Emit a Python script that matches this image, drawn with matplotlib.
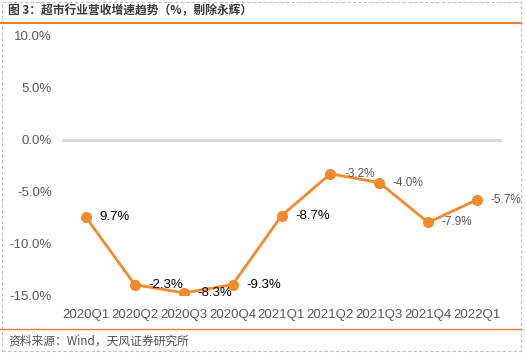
import matplotlib
matplotlib.use("Agg")
import matplotlib.pyplot as plt
from matplotlib.lines import Line2D
from matplotlib.patches import Rectangle

categories = ["2020Q1", "2020Q2", "2020Q3", "2020Q4", "2021Q1",
              "2021Q2", "2021Q3", "2021Q4", "2022Q1"]
growth = [-7.5, -14.0, -14.8, -14.0, -7.35, -3.3, -4.15, -8.0, -5.8]
point_labels = ["9.7%", "-2.3%", "-8.3%", "-9.3%", "-8.7%",
                "-3.2%", "-4.0%", "-7.9%", "-5.7%"]
label_colors = ["black"] * 5 + ["#595959"] * 4
label_sizes = [9.5] * 5 + [8.5] * 4
yticks = [10, 5, 0, -5, -10, -15]
ytick_labels = ["10.0%", "5.0%", "0.0%", "-5.0%", "-10.0%", "-15.0%"]

title = "图 3：超市行业营收增速趋势（%，剔除永辉）"
source = "资料来源：Wind，天风证券研究所"

plt.rcParams['font.family'] = ['Liberation Sans', 'Noto Sans CJK SC', 'DejaVu Sans']

W, H = 525, 353
fig = plt.figure(figsize=(W / 100, H / 100), dpi=100)

def fx(px):
    return px / W

def fy(py):
    return 1 - py / H

# border and rules
fig.add_artist(Rectangle((fx(2), fy(351)), fx(519), 349 / H, transform=fig.transFigure,
                         fill=False, edgecolor="#c0c0c0", linewidth=0.8, linestyle=(0, (3, 2))))
fig.add_artist(Line2D([fx(0), fx(521)], [fy(23), fy(23)], transform=fig.transFigure,
                      color="#ED7D31", linewidth=1.5))
fig.add_artist(Line2D([fx(0), fx(521)], [fy(329), fy(329)], transform=fig.transFigure,
                      color="#ED7D31", linewidth=1.0))

fig.text(fx(8), fy(11), title, fontsize=8.5, fontweight="bold", color="#3a3a3a",
         family=['Noto Sans CJK SC', 'DejaVu Sans'], va="center", ha="left")
fig.text(fx(8), fy(341), source, fontsize=8.5, color="#505050",
         family=['Noto Sans CJK SC', 'DejaVu Sans'], va="center", ha="left")

ax = fig.add_axes([fx(61.5), fy(295), fx(501.5) - fx(61.5), fy(36) - fy(295)])
x = list(range(len(categories)))
ax.plot(x, growth, color="#F28A2E", linewidth=2, marker="o", markersize=7, zorder=3)
ax.axhline(0, color="#d9d9d9", linewidth=2, zorder=1)
for xi, yi, lab, c, s in zip(x, growth, point_labels, label_colors, label_sizes):
    ax.text(xi + 0.28, yi, lab, fontsize=s, color=c, va="center", ha="left", zorder=4)

ax.set_xlim(-0.5, len(categories) - 0.5)
ax.set_ylim(-15, 10)
ax.set_yticks(yticks)
ax.set_yticklabels(ytick_labels)
ax.set_xticks(x)
ax.set_xticklabels(categories)
ax.tick_params(axis="both", length=0, labelsize=9.5, colors="#595959")
ax.tick_params(axis="x", pad=10)
ax.tick_params(axis="y", pad=7)
for s in ax.spines.values():
    s.set_visible(False)
ax.patch.set_visible(False)

fig.savefig("out.png", dpi=100)
